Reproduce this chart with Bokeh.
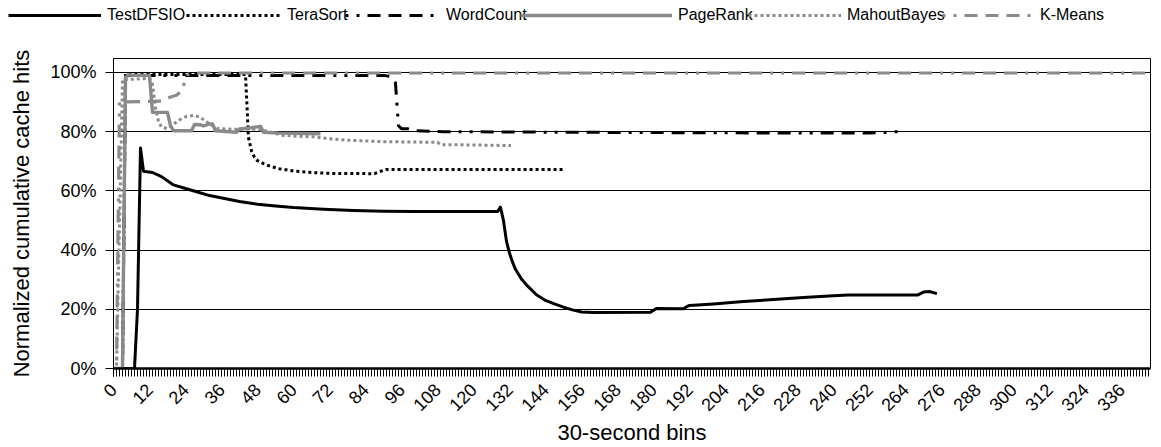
from bokeh.plotting import figure
from bokeh.layouts import column, row
from bokeh.models import (Range1d, FixedTicker, SingleIntervalTicker, PrintfTickFormatter,
                          Legend, LegendItem)
from bokeh.embed import file_html
from bokeh.resources import INLINE

# Normalized cumulative cache hits (%) per 30-second bin, one pair of lists per workload
testdfsio_bins = [0, 7, 8, 9, 10, 13, 16, 20, 24, 28, 32, 37, 42, 48, 54, 60, 70, 80, 90, 100,
                  128, 129, 130, 131, 132, 133, 134, 136, 138, 141, 144, 147, 150, 153, 156, 160,
                  179, 181, 190, 191, 192, 200, 210, 220, 230, 240, 245, 268, 270, 272, 274.5]
testdfsio_hits = [0, 0, 20, 74.5, 66.6, 66.2, 64.8, 62, 60.8, 59.6, 58.4, 57.4, 56.4, 55.5, 54.9,
                  54.4, 53.8, 53.4, 53.1, 53, 53, 54.5, 50, 43, 39, 36, 33.5, 30.2, 27.9, 24.9,
                  23, 21.8, 20.7, 19.8, 19.1, 18.9, 19, 20.3, 20.2, 20.8, 21.3, 21.8, 22.6, 23.3,
                  24.0, 24.6, 24.8, 24.8, 25.8, 26, 25.3]

terasort_bins = [0, 3, 4, 44, 45, 46, 47, 48, 50, 52, 55, 60, 66, 72, 87, 89, 91, 150.5]
terasort_hits = [0, 0, 99.3, 99.3, 78, 73.5, 71.3, 70.2, 69.2, 68.4, 67.5, 66.7, 66.2, 65.9,
                 65.8, 66.6, 67.2, 67.2]

wordcount_bins = [0, 3, 4, 90, 92, 93, 94, 95, 96, 98, 100, 110, 150, 200, 240, 252, 258, 262]
wordcount_hits = [0, 0, 99, 99, 98.7, 98, 96.5, 82, 81, 81, 80.3, 80, 79.8, 79.6, 79.5, 79.5,
                  79.8, 80]

pagerank_bins = [0, 3, 4, 5, 6, 12, 13, 18, 19, 20, 26, 27, 29, 30, 32, 33, 34, 41, 42, 46, 49,
                 50, 55, 69]
pagerank_hits = [0, 0, 98.3, 99.3, 99, 99, 86.5, 86.5, 82, 80.3, 80.3, 82.4, 82.3, 81.9, 82.6,
                 82.6, 80.3, 79.8, 80.9, 81.3, 81.8, 79.8, 79.5, 79.3]

mahoutbayes_bins = [0, 1, 3, 12, 13, 14, 15, 16, 18, 20, 22, 24, 27, 29, 31, 33, 35, 40, 48, 52,
                    56, 62, 67, 72, 78, 90, 108, 109, 112, 132.5]
mahoutbayes_hits = [0, 0, 97.5, 98, 96, 88, 83.5, 81.5, 81, 82.5, 84, 85, 85.5, 84.8, 83.3, 82,
                    81, 80.8, 80.8, 80, 78.8, 78.4, 78.2, 77.6, 77.1, 76.6, 76.4, 75.6, 75.6, 75.3]

kmeans_bins = [0, 1, 2, 16, 19, 21, 23, 24, 25, 26, 345.5]
kmeans_hits = [0, 0, 90, 90.3, 91.7, 92.3, 94, 98.3, 99.5, 99.8, 99.8]

y_ticks = [0, 20, 40, 60, 80, 100]

BLACK = "#000000"
GRAY = "#8a8a8a"
DOT = "3 3"
DOT_DOT_DASH = "3 8 3 8 13 8 13 8 13 8"

series = [  # drawing order: later series sit on top
    ("TestDFSIO", testdfsio_bins, testdfsio_hits, BLACK, 3, None),
    ("TeraSort", terasort_bins, terasort_hits, BLACK, 3, DOT),
    ("WordCount", wordcount_bins, wordcount_hits, BLACK, 3, DOT_DOT_DASH),
    ("PageRank", pagerank_bins, pagerank_hits, GRAY, 3.4, None),
    ("MahoutBayes", mahoutbayes_bins, mahoutbayes_hits, GRAY, 3, DOT),
    ("K-Means", kmeans_bins, kmeans_hits, GRAY, 3.2, DOT_DOT_DASH),
]


def line_style(color, lw, dash):
    kw = dict(line_color=color, line_width=lw, line_join="round")
    if dash:
        kw["line_dash"] = dash
    return kw


# ---- legend strip across the top ----
LEG_H = 30
key = figure(width=1161, height=LEG_H, x_range=Range1d(0, 1161), y_range=Range1d(0, LEG_H),
             output_backend="svg", toolbar_location=None,
             min_border_left=0, min_border_right=0, min_border_top=0, min_border_bottom=0)
key.axis.visible = False
key.grid.visible = False
key.outline_line_color = None
key.background_fill_color = "white"
key.border_fill_color = "white"

legend_layout = {  # name: (sample start, sample length)
    "TestDFSIO": (8, 93),
    "TeraSort": (186, 95),
    "WordCount": (345, 95),
    "PageRank": (520, 152),
    "MahoutBayes": (748, 93),
    "K-Means": (942, 92),
}
for name, xs, ys, color, lw, dash in series:
    # hidden copy of the series: only its line style is shown in the key
    proxy = key.line(xs, ys, visible=False, **line_style(color, lw, dash))
    x0, gw = legend_layout[name]
    key.add_layout(Legend(items=[LegendItem(label=name, renderers=[proxy])],
                          location=(x0, 5), orientation="horizontal",
                          glyph_width=gw, glyph_height=20, label_standoff=6,
                          padding=0, margin=0, spacing=0,
                          border_line_alpha=0, background_fill_alpha=0,
                          inactive_fill_alpha=0,
                          label_text_font="Liberation Sans", label_text_font_size="16px",
                          label_text_color="black"))

# ---- main chart ----
p = figure(width=1161, height=447 - LEG_H,
           x_range=Range1d(0, 345.7), y_range=Range1d(0, 104.7),
           output_backend="svg", toolbar_location=None,
           min_border_left=113, min_border_right=11, min_border_top=58 - LEG_H,
           min_border_bottom=77)
p.background_fill_color = "white"
p.border_fill_color = "white"
p.outline_line_color = "black"
p.outline_line_width = 1

for name, xs, ys, color, lw, dash in series:
    p.line(xs, ys, **line_style(color, lw, dash))

# grid
p.xgrid.visible = False
p.ygrid.ticker = FixedTicker(ticks=y_ticks)
p.ygrid.grid_line_color = "black"
p.ygrid.grid_line_width = 1

# y axis
p.yaxis.ticker = FixedTicker(ticks=y_ticks)
p.yaxis.formatter = PrintfTickFormatter(format="%d%%")
p.yaxis.axis_label = "Normalized cumulative cache hits"
p.yaxis.axis_line_color = "black"
p.yaxis.axis_line_width = 1
p.yaxis.major_tick_out = 8
p.yaxis.major_tick_in = 0
p.yaxis.minor_tick_line_color = None
p.yaxis.major_label_standoff = 9
p.yaxis.axis_label_standoff = 13

# x axis: a tick per bin, labels every 12 bins
p.xaxis.ticker = SingleIntervalTicker(interval=12, num_minor_ticks=12)
p.xaxis.axis_label = "30-second bins"
p.xaxis.axis_line_color = "black"
p.xaxis.axis_line_width = 2.5
p.xaxis.major_tick_out = 8
p.xaxis.major_tick_in = 0
p.xaxis.minor_tick_out = 8
p.xaxis.minor_tick_in = 0
p.xaxis.major_tick_line_color = "black"
p.xaxis.minor_tick_line_color = "black"
p.xaxis.major_label_orientation = 0.785398
p.xaxis.major_label_standoff = 10
p.xaxis.axis_label_standoff = 0

for ax in (p.xaxis[0], p.yaxis[0]):
    ax.major_label_text_font = "Liberation Sans"
    ax.major_label_text_font_size = "18px"
    ax.major_label_text_color = "black"
    ax.axis_label_text_font = "Liberation Sans"
    ax.axis_label_text_font_style = "normal"
    ax.axis_label_text_color = "black"
p.xaxis.axis_label_text_font_size = "22px"
p.yaxis.axis_label_text_font_size = "22px"

layout = column(row(key), p, spacing=0)
open("out.html", "w").write(file_html(layout, INLINE))
